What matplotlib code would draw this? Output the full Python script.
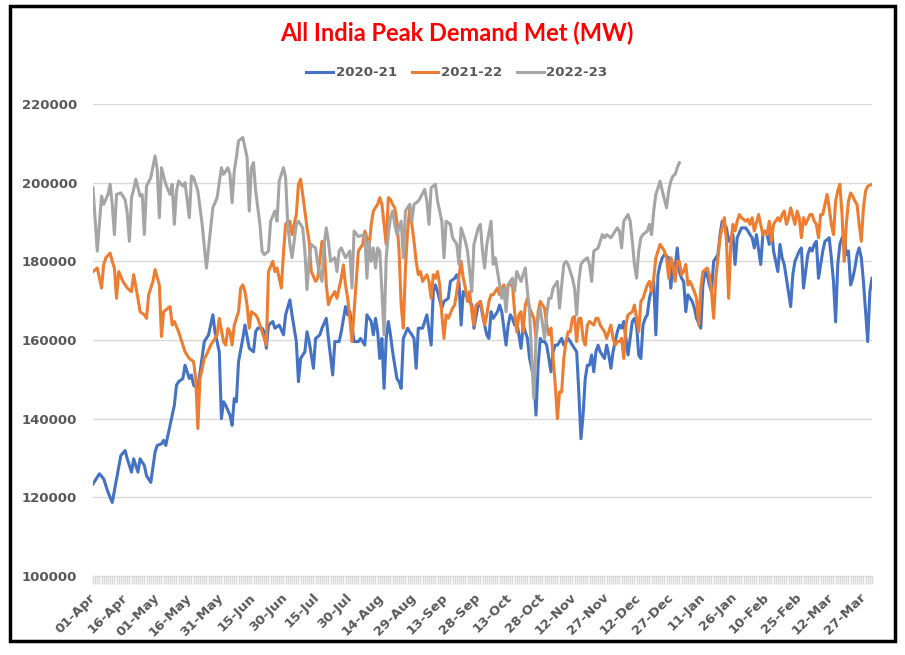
import numpy as np
import matplotlib
matplotlib.use('Agg')
import matplotlib.pyplot as plt
from matplotlib import font_manager
from matplotlib.patches import Rectangle

# (day since 01-Apr, peak demand met in MW)
pts_2020 = [(0,123400),(3,126000),(5,124700),(7,121300),(9,118700),(11,124700),(13,130600),(15,131900),(16,129800),(18,126400),
    (19,129800),(21,126400),(22,129800),(24,128100),(25,125500),(27,123800),(29,131500),(30,133200),(32,133600),(33,134500),
    (34,133200),(36,138300),(38,143400),(39,148500),(40,149400),(42,150200),(43,153600),(45,150200),(46,151100),(47,148500),
    (49,147700),(52,159600),(54,161300),(56,166400),(57,162100),(59,157000),(60,140000),(61,144300),(62,143400),(64,140900),
    (65,138300),(66,145100),(67,144300),(68,154500),(70,160400),(71,163800),(73,157900),(75,157000),(76,162100),(77,163000),
    (79,163000),(80,162100),(81,157900),(82,163800),(84,164700),(85,163000),(87,163800),(89,161300),(90,166400),(92,170200),
    (93,166400),(95,159600),(96,149400),(97,155300),(99,157000),(100,162100),(101,159600),(103,152800),(104,160400),(106,161300),
    (107,163000),(109,165500),(110,160400),(112,151100),(113,159600),(115,159600),(116,162100),(118,168500),(119,166400),(120,167200),
    (121,163800),(122,159600),(124,159600),(125,160400),(127,158700),(128,166400),(130,164700),(131,161300),(132,165500),(133,162100),
    (134,155300),(135,160400),(136,147700),(137,160400),(138,164700),(139,161300),(140,157000),(142,150200),(143,149400),(144,147700),
    (145,160400),(147,163000),(148,162100),(149,161300),(150,160400),(151,152800),(152,163000),(154,163000),(155,164700),(156,166400),
    (158,158700),(159,172300),(160,174000),(161,172300),(163,168100),(164,169800),(166,170600),(167,174900),(169,175700),(170,176600),
    (171,174900),(172,163800),(173,172300),(174,171500),(176,169800),(177,168900),(178,163000),(180,168900),(181,169800),(182,166400),
    (184,161300),(185,160400),(186,167200),(187,165500),(189,167200),(190,168900),(191,167200),(192,163000),(193,158700),(194,163800),
    (195,166400),(196,165500),(197,163800),(198,164700),(200,157900),(201,163800),(202,162100),(203,160400),(204,155300),(206,150200),
    (207,140900),(208,153600),(209,160400),(210,159600),(211,159600),(212,158700),(214,151900),(215,157000),(216,158700),(217,158700),
    (219,160400),(220,158700),(221,159600),(222,160400),(223,159600),(224,158700),(226,157000),(227,146800),(228,134900),(229,140900),
    (230,150200),(231,153600),(232,153600),(233,156200),(234,151900),(235,157000),(236,158700),(237,157000),(239,155300),(240,158700),
    (241,156200),(242,152800),(243,157000),(245,162100),(246,163800),(247,163000),(248,164700),(250,156200),(251,160400),(252,164700),
    (253,165500),(254,163800),(255,156200),(256,155300),(257,163800),(258,165500),(259,166400),(260,170600),(262,174900),(263,161300),
    (264,176600),(265,179200),(266,180900),(267,181700),(269,180900),(270,173200),(271,179200),(272,178300),(273,183400),(274,177400),
    (275,175700),(276,174900),(277,167200),(278,171500),(280,169800),(281,168100),(282,165500),(284,163000),(285,174000),(286,177400),
    (287,176600),(288,174000),(289,172300),(290,180000),(292,181700),(293,186800),(294,190200),(296,188500),(297,185100),(298,186000),
    (299,186800),(300,179200),(301,186000),(303,188500),(304,188500),(305,188500),(306,187700),(307,186800),(308,186000),(309,183400),
    (310,186800),(312,179200),(313,186800),(314,187700),(315,186800),(316,184300),(317,188500),(318,182600),(320,177400),(321,184300),
    (322,180900),(323,179200),(324,175700),(326,168500),(327,176600),(328,180000),(330,182600),(331,183400),(332,173200),(334,181700),
    (335,183400),(336,182600),(337,184300),(338,185100),(339,175700),(341,182600),(342,185100),(343,185500),(344,186000),(345,180900),
    (346,174900),(347,164600),(348,179200),(349,184300),(350,186000),(351,186800),(352,181700),(353,182600),(354,174000),(355,175700),
    (356,178300),(357,181700),(358,183400),(359,180900),(360,174900),(361,167200),(362,159600),(363,172300),(364,175700)]

pts_2021 = [(0,177400),(2,178300),(4,173200),(5,179200),(6,180900),(8,182100),(9,180000),(10,178300),(11,170600),(12,177400),
    (14,174900),(16,173200),(18,172300),(19,176600),(21,170600),(22,167200),(24,166400),(25,165500),(26,171500),(28,174900),
    (29,177900),(31,174000),(32,160900),(33,167200),(36,168500),(37,163800),(38,164700),(40,162100),(42,158700),(43,157000),
    (45,155300),(47,154500),(48,150200),(49,137500),(50,150200),(52,155300),(53,156200),(55,158700),(57,160400),(58,161300),
    (59,165500),(61,159600),(62,158700),(63,162900),(64,162100),(65,158700),(66,163800),(68,167200),(69,173200),(70,174000),
    (71,172300),(72,168900),(73,163000),(74,167200),(76,166400),(77,165500),(78,163800),(80,160400),(81,158700),(82,177400),
    (84,180000),(85,177400),(86,178300),(88,173200),(89,182100),(90,189400),(91,190200),(92,190200),(93,186800),(95,191900),
    (96,199600),(97,200900),(99,192800),(100,188500),(101,185100),(102,177400),(104,174900),(105,175700),(107,185100),(108,184300),
    (109,174000),(110,169000),(111,170600),(113,172300),(114,170600),(116,175700),(117,179100),(118,174000),(119,170600),(120,165500),
    (121,159600),(122,167200),(123,174900),(124,182600),(126,184300),(127,187700),(128,186000),(129,183400),(130,189400),(131,192800),
    (133,194500),(134,196200),(135,194500),(136,189400),(137,184300),(138,196200),(139,195700),(140,194500),(141,193600),(142,190200),
    (143,182600),(144,168900),(145,163000),(146,178300),(147,187700),(148,193600),(149,189400),(150,185100),(151,180000),(152,176600),
    (153,177400),(154,174900),(156,176600),(157,174900),(158,170600),(159,176600),(160,175700),(161,177400),(162,174000),(163,166400),
    (164,160400),(165,166400),(166,165500),(168,168100),(169,168900),(170,172300),(172,180000),(173,175700),(174,173200),(175,169800),
    (176,172300),(177,167200),(178,163800),(179,168900),(181,169800),(182,167200),(183,163800),(184,166400),(185,169800),(186,171500),
    (187,171500),(189,173200),(190,171500),(191,173200),(192,174000),(193,170600),(194,174000),(196,174000),(197,167200),(198,162100),
    (199,166400),(200,167200),(201,162100),(202,168900),(203,170600),(204,168100),(206,165500),(207,160400),(208,167200),(209,169800),
    (210,168900),(211,168100),(212,163800),(213,161300),(214,163000),(215,155300),(216,148500),(217,140000),(218,146800),(219,146800),
    (220,155300),(221,159600),(222,162100),(223,162100),(224,165500),(225,166000),(226,159600),(227,165500),(228,165500),(229,160400),
    (230,158700),(231,163800),(232,164700),(234,163800),(235,165500),(236,165500),(237,163800),(239,162100),(240,160400),(241,162100),
    (242,163800),(243,160400),(244,158700),(245,159600),(246,159600),(247,160400),(248,155300),(249,163800),(250,166400),(252,167200),
    (253,168900),(254,165500),(255,162100),(256,169800),(257,170600),(259,174000),(260,174900),(261,172300),(262,175700),(263,180900),
    (264,182600),(265,184300),(267,182600),(268,180900),(269,175700),(270,180900),(271,179200),(272,174900),(273,180000),(274,180000),
    (275,176600),(276,177400),(277,179200),(278,174000),(279,174900),(281,172300),(282,170600),(283,163800),(284,173200),(285,177400),
    (287,178300),(288,176600),(289,172300),(290,165500),(291,175700),(292,180900),(293,186000),(294,188500),(295,191100),(296,185100),
    (297,170600),(298,184300),(299,189400),(300,187700),(301,190200),(302,191900),(303,191100),(305,190200),(306,190700),(307,189400),
    (308,191100),(309,187700),(311,191900),(312,189400),(313,186800),(314,187700),(315,186800),(316,190200),(317,185100),(318,189400),
    (320,191100),(321,190200),(322,191900),(323,192800),(324,189400),(325,191100),(326,193600),(328,189400),(329,192800),(330,191100),
    (331,186000),(332,191100),(333,189400),(335,191900),(336,191900),(337,190200),(338,189400),(339,186000),(340,191900),(341,191900),
    (342,194500),(343,197000),(344,193600),(345,189400),(346,186800),(347,195300),(348,197900),(349,199600),(350,191900),(351,180000),
    (352,189400),(353,195300),(354,197400),(355,196600),(356,195300),(357,194500),(358,189400),(359,185100),(360,193600),(361,197900),
    (362,199100),(364,199600)]

pts_2022 = [(0,198700),(2,182600),(4,196600),(5,194500),(7,197000),(8,199600),(9,194500),(10,186800),(11,197000),(13,197400),
    (15,195700),(16,192300),(17,185100),(18,196200),(19,198300),(20,200900),(22,196600),(23,197000),(24,186800),(25,199100),
    (27,201300),(29,206800),(30,203400),(31,191100),(32,203800),(34,199600),(36,197000),(37,199600),(38,189400),(39,197900),
    (40,200400),(42,199100),(43,200000),(45,191100),(46,201700),(47,201300),(49,197900),(51,189400),(53,178300),(55,188500),
    (56,193600),(58,196200),(60,203800),(61,202100),(63,203800),(64,202100),(65,194900),(66,203000),(67,206400),(68,210600),
    (70,211500),(72,206400),(73,192800),(74,203800),(75,205100),(76,197900),(78,189400),(79,182600),(80,181700),(82,182600),
    (83,190200),(85,192800),(86,190200),(87,200400),(89,203800),(90,201300),(91,189400),(92,184300),(93,180900),(95,189400),
    (96,190200),(98,188500),(99,182600),(100,172800),(101,180900),(102,184300),(104,183400),(105,179200),(107,174900),(108,184300),
    (109,188500),(110,185100),(111,180000),(113,180900),(114,177400),(115,182600),(116,183400),(118,180900),(120,182600),(121,173200),
    (122,187700),(124,186300),(127,186800),(128,175700),(129,185100),(130,180000),(131,183400),(132,178300),(133,183400),(134,182600),
    (135,172300),(136,161300),(137,180900),(138,186800),(139,191100),(140,192800),(141,189400),(142,186800),(143,188500),(144,190200),
    (145,180900),(146,192800),(148,194500),(149,190200),(150,194500),(152,195300),(153,196200),(155,198300),(156,195300),(157,189400),
    (158,198700),(159,199100),(160,199600),(161,195300),(162,192800),(163,190200),(164,180900),(165,190200),(167,189400),(168,186000),
    (170,184300),(171,179200),(172,188500),(173,186800),(174,185100),(175,182600),(177,172300),(178,184300),(180,188500),(181,189400),
    (182,182600),(183,178300),(184,184300),(186,190200),(187,179200),(188,180900),(190,174000),(191,170600),(192,173200),(193,167200),
    (194,174000),(195,174900),(196,175700),(197,172300),(198,177400),(200,174900),(201,176600),(202,178300),(203,172300),(204,167200),
    (205,155300),(206,145100),(207,160400),(208,165500),(209,168100),(211,160400),(212,166400),(213,170600),(214,170600),(215,173200),
    (217,174900),(218,168100),(219,174000),(220,179200),(221,180000),(222,179200),(224,175700),(225,173200),(226,166400),(227,174900),
    (228,179200),(229,180000),(231,180900),(232,179200),(233,174900),(234,182600),(236,183400),(237,185100),(238,186800),(239,186000),
    (240,186800),(242,186000),(243,186800),(244,187700),(245,188500),(246,187700),(247,183400),(248,190200),(250,191900),(251,190200),
    (252,185100),(253,179200),(254,175700),(255,182600),(256,186000),(257,186800),(259,187700),(260,189400),(261,186800),(262,192800),
    (263,197000),(264,198700),(265,200400),(266,197900),(268,193600),(269,197900),(270,200400),(271,201700),(272,202100),(273,203800),
    (274,205100)]

x_labels = ['01-Apr', '16-Apr', '01-May', '16-May', '31-May', '15-Jun', '30-Jun', '15-Jul', '30-Jul',
            '14-Aug', '29-Aug', '13-Sep', '28-Sep', '13-Oct', '28-Oct', '12-Nov', '27-Nov', '12-Dec',
            '27-Dec', '11-Jan', '26-Jan', '10-Feb', '25-Feb', '12-Mar', '27-Mar']
series = ['2020-21', '2021-22', '2022-23']
colors = ['#4472C4', '#ED7D31', '#A5A5A5']

names = {f.name for f in font_manager.fontManager.ttflist}
title_font = 'Liberation Sans Narrow' if 'Liberation Sans Narrow' in names else 'Lato'
plt.rcParams['font.family'] = ['DejaVu Sans']

fig = plt.figure(figsize=(9.05, 6.55), dpi=100)
ax = fig.add_axes([93/905, 1 - 576/655, 779/905, 472/655])

for pts, name, c in zip([pts_2020, pts_2021, pts_2022], series, colors):
    d, v = zip(*pts)
    ax.plot(d, v, color=c, lw=2.2, label=name, solid_joinstyle='round')

ax.set_xlim(0, 364)
ax.set_ylim(100000, 220000)
ax.set_yticks(np.arange(100000, 220001, 20000))
ax.set_yticklabels([str(t) for t in range(100000, 220001, 20000)],
                   fontsize=9.5, fontweight='bold', color='#595959')
ax.tick_params(axis='y', length=0, pad=11.5)
ax.grid(axis='y', color='#D9D9D9', lw=1)
ax.set_axisbelow(True)

ax.set_xticks(np.arange(0, 361, 15))
ax.set_xticklabels(x_labels, rotation=45, ha='right', va='center', rotation_mode='anchor',
                   fontsize=9.5, fontweight='bold', color='#595959')
ax.set_xticks(np.arange(0, 365), minor=True)
ax.tick_params(axis='x', which='both', length=6, color='#D9D9D9', width=1, pad=8)

for s in ['top', 'right', 'left']:
    ax.spines[s].set_visible(False)
ax.spines['bottom'].set_color('#D9D9D9')

fig.text(0.505, 1 - 33/655, 'All India Peak Demand Met (MW)', ha='center', va='center',
         fontsize=17, fontweight='bold', color='#FF0000', family=[title_font, 'DejaVu Sans'])
fig.legend(loc='center', bbox_to_anchor=(0.505, 1 - 73/655), ncol=3, frameon=False,
           handlelength=2.0, handletextpad=0.2, columnspacing=1.1,
           prop={'size': 9.6, 'weight': 'bold'}, labelcolor='#595959')

fig.add_artist(Rectangle((10/905, 1 - 641/655), 885/905, 635/655, transform=fig.transFigure,
                         fill=False, edgecolor='black', lw=2.5))

fig.savefig('out.png', dpi=100)
